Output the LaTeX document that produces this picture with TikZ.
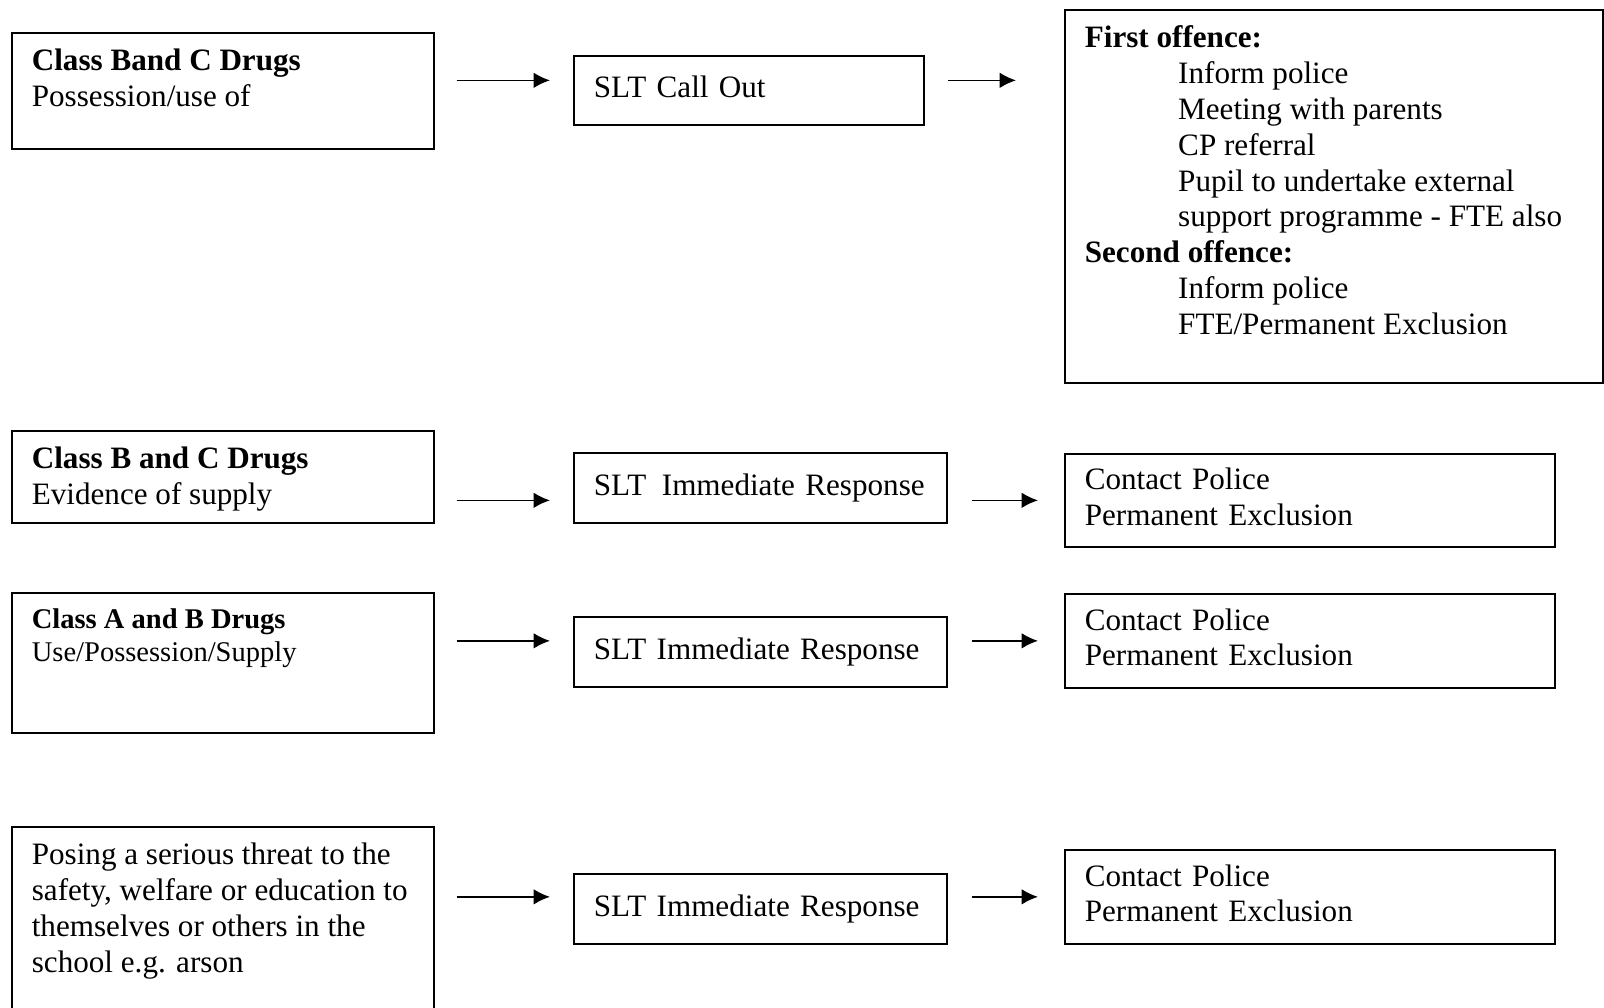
\documentclass[tikz,border=0pt]{standalone}
\usepackage{fontspec}
\setmainfont{Liberation Serif}
\usepackage{tikz}
\usetikzlibrary{arrows.meta,calc}
\newdimen\pix \pix=0.3855pt
% top aligned text of a box: width, height (px), text
\newcommand{\boxtxt}[3]{\parbox[t][\dimexpr#2\pix-26\pix\relax][t]{\dimexpr#1\pix-40\pix\relax}{\raggedright\strut #3}}

\begin{document}
\begin{tikzpicture}[x=0.3855pt, y=-0.3855pt,
        every node/.style={font=\fontsize{12pt}{13.8pt}\selectfont},
        topbox/.style={rectangle, draw, line width=0.65pt, anchor=north west, inner xsep=20\pix, inner ysep=13\pix},
        midbox/.style={rectangle, draw, line width=0.65pt, anchor=north west, inner xsep=20\pix, inner ysep=0pt, align=left, execute at begin node=\strut, execute at end node=\strut},
        arrow/.style={-{Latex[length=6.3pt, width=6pt]}, line width=0.65pt}]

        \useasboundingbox (0,0) rectangle (1604,1008);

        % row 1
        \node[topbox] (b1) at (11,32) {\boxtxt{422}{116}{\textbf{Class Band C Drugs}\\Possession/use of}};
        \node[midbox, text width=310\pix, minimum height=69\pix] (s1) at (573,55) {SLT Call Out};
        \node[topbox] (r1) at (1064,9) {\boxtxt{538}{373}{\textbf{First offence:}\\
            \hspace*{36pt}Inform police\\
            \hspace*{36pt}Meeting with parents\\
            \hspace*{36pt}CP referral\\
            \hspace*{36pt}Pupil to undertake external\\
            \hspace*{36pt}support programme - FTE also\\
            \textbf{Second offence:}\\
            \hspace*{36pt}Inform police\\
            \hspace*{36pt}FTE/Permanent Exclusion}};

        % row 2
        \node[topbox] (b2) at (11,430) {\boxtxt{422}{92}{\textbf{Class B and C Drugs}\\Evidence of supply}};
        \node[midbox, text width=333\pix, minimum height=70\pix] (s2) at (573,452) {\mbox{SLT\hspace{6pt}Immediate Response}};
        \node[midbox, text width=450\pix, minimum height=93\pix] (c2) at (1064,453) {Contact Police\\Permanent Exclusion};

        % row 3
        \node[topbox, font=\fontsize{11pt}{12.65pt}\selectfont] (b3) at (11,592) {\boxtxt{422}{140}{\textbf{Class A and B Drugs}\\Use/Possession/Supply}};
        \node[midbox, text width=333\pix, minimum height=70\pix] (s3) at (573,616) {SLT Immediate Response};
        \node[midbox, text width=450\pix, minimum height=94\pix] (c3) at (1064,593) {Contact Police\\Permanent Exclusion};

        % row 4
        \node[topbox] (b4) at (11,826) {\boxtxt{422}{220}{Posing a serious threat to the\\safety, welfare or education to\\themselves or others in the\\school e.g. arson}};
        \node[midbox, text width=333\pix, minimum height=70\pix] (s4) at (573,873) {SLT Immediate Response};
        \node[midbox, text width=450\pix, minimum height=94\pix] (c4) at (1064,849) {Contact Police\\Permanent Exclusion};

        \draw[arrow] ($(b1.east |- s1.west)+(22,-10)$) -- ($(s1.west)+(-23,-10)$);
        \draw[arrow] ($(s1.east)+(23,-10)$) -- ($(r1.west |- s1.west)+(-48,-10)$);
        \draw[arrow] ($(b2.east |- c2.west)+(22,0)$) -- ($(s2.west |- c2.west)+(-23,0)$);
        \draw[arrow] ($(s2.east |- c2.west)+(24,0)$) -- ($(c2.west)+(-26,0)$);
        \draw[arrow] ($(b3.east |- c3.west)+(22,0)$) -- ($(s3.west |- c3.west)+(-23,0)$);
        \draw[arrow] ($(s3.east |- c3.west)+(24,0)$) -- ($(c3.west)+(-26,0)$);
        \draw[arrow] ($(b4.east |- c4.west)+(22,0)$) -- ($(s4.west |- c4.west)+(-23,0)$);
        \draw[arrow] ($(s4.east |- c4.west)+(24,0)$) -- ($(c4.west)+(-26,0)$);

    \end{tikzpicture}
\end{document}
